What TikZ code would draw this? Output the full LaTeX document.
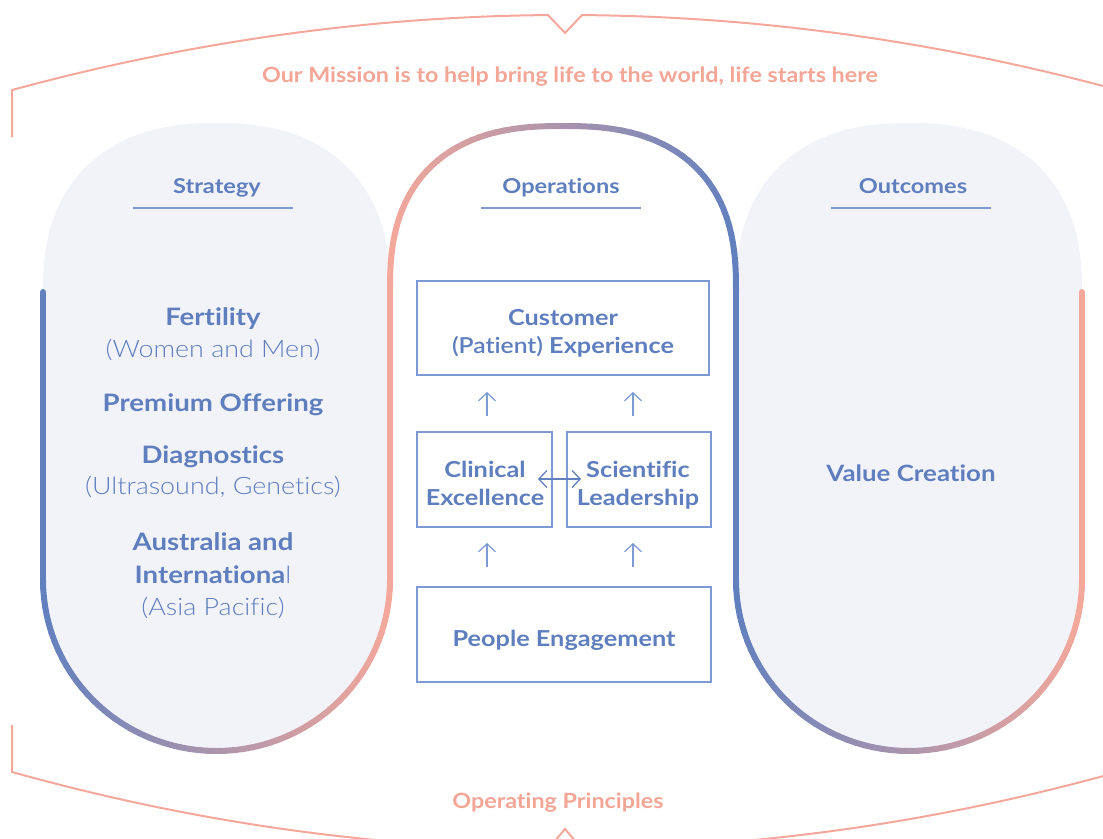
\documentclass[tikz,border=0pt]{standalone}
\usepackage{fontspec}
\setmainfont{Lato}[Ligatures=NoCommon, FakeStretch=1.15]
\newfontfamily\lightf{Lato Light}[Ligatures=NoCommon, FakeStretch=1.12]
\newfontfamily\missf{Lato}[Ligatures=NoCommon, FakeStretch=1.11]
\usetikzlibrary{arrows.meta}
\definecolor{opblue}{RGB}{98,128,190}
\definecolor{oppink}{RGB}{244,168,155}
\definecolor{optext}{RGB}{94,126,190}
\definecolor{opbox}{RGB}{125,155,210}
\definecolor{opfill}{RGB}{242,243,249}
\definecolor{opsalmon}{RGB}{243,165,150}
\tikzset{
  frameline/.style={draw=oppink, line width=2},
  pillline/.style={line width=6, line cap=round},
  bt/.style={text=optext, font=\fontsize{24}{28}\selectfont\bfseries, anchor=base, inner sep=0},
  lt/.style={text=optext, font=\fontsize{24}{28}\selectfont\lightf, anchor=base, inner sep=0},
  head/.style={text=optext, font=\fontsize{20.5}{25}\selectfont\bfseries, anchor=base, inner sep=0},
  boxt/.style={text=optext, font=\fontsize{22}{26}\selectfont\bfseries, anchor=base, inner sep=0},
  valt/.style={text=optext, font=\fontsize{22.5}{26}\selectfont\bfseries, anchor=base, inner sep=0},
  salm/.style={text=opsalmon, font=\fontsize{21}{25}\selectfont\missf\bfseries, anchor=base, inner sep=0},
  ulin/.style={draw=opbox, line width=1.1},
  opbx/.style={draw=opbox, line width=1.3, inner sep=0, minimum height=95},
  arr/.style={draw=opbox, line width=1.2, -{Straight Barb[length=8pt,width=17pt]}},
  darr/.style={draw=opblue, line width=1.3, {Straight Barb[length=8pt,width=17pt]}-{Straight Barb[length=8pt,width=17pt]}}
}
\begin{document}
\begin{tikzpicture}[x=1pt,y=-1pt]
\useasboundingbox (0,0) rectangle (1103,838);
\clip (0,0) rectangle (1103,838);
% pill fills
\foreach \cx/\a in {216.5/173.5, 909/173}{
  \fill[opfill] plot[variable=\t,domain=0:180,samples=61]
    ({\cx-\a*sign(cos(\t))*pow(max(abs(cos(\t)),0.0001),0.85)},{290-167*pow(max(sin(\t),0.0001),0.85)})
    -- plot[variable=\t,domain=0:180,samples=61] ({\cx+\a*cos(\t)},{580+171*sin(\t)}) -- cycle;
}
% straight outline parts
\draw[pillline, opblue] (43,292) -- (43,580);
\draw[pillline, oppink] (390,290) -- (390,580);
\draw[pillline, opblue] (736,290) -- (736,580);
\draw[pillline, oppink] (1082,580) -- (1082,292);
% bottom gradients
\foreach \cx/\a in {216.5/173.5, 909/173}{
  \foreach \i in {0,...,59}{
    \pgfmathsetmacro\ta{3*\i}
    \pgfmathsetmacro\tb{3*\i+3}
    \pgfmathsetmacro\pk{50*(1-cos(\ta+1.5))}
    \draw[pillline, draw=oppink!\pk!opblue] ({\cx-\a*cos(\ta)},{580+171*sin(\ta)}) -- ({\cx-\a*cos(\tb)},{580+171*sin(\tb)});
  }
}
% middle top gradient
\foreach \i in {0,...,59}{
  \pgfmathsetmacro\ta{3*\i}
  \pgfmathsetmacro\tb{3*\i+3}
  \pgfmathsetmacro\xa{563-173*sign(cos(\ta))*pow(max(abs(cos(\ta)),0.0001),0.8)}
  \pgfmathsetmacro\ya{290-164*pow(max(sin(\ta),0.0001),0.8)}
  \pgfmathsetmacro\xb{563-173*sign(cos(\tb))*pow(max(abs(cos(\tb)),0.0001),0.8)}
  \pgfmathsetmacro\yb{290-164*pow(max(sin(\tb),0.0001),0.8)}
  \pgfmathsetmacro\bl{50*(1-sign(cos(\ta+1.5))*pow(max(abs(cos(\ta+1.5)),0.0001),0.8))}
  \draw[pillline, draw=opblue!\bl!oppink] (\xa,\ya) -- (\xb,\yb);
}
% outer frame
\draw[frameline] (12,137) -- plot[variable=\t,domain=12:548,samples=40] (\t,{15+75*((\t-565)/553)^2})
  -- (565,33) -- plot[variable=\t,domain=582:1130,samples=40] (\t,{15+75*((\t-565)/553)^2});
\draw[frameline] (12,725) -- plot[variable=\t,domain=12:548,samples=40] (\t,{849-77*((\t-565)/553)^2})
  -- (565,829) -- plot[variable=\t,domain=582:1118,samples=40] (\t,{849-77*((\t-565)/553)^2}) -- (1118,725);
% texts
\node[salm] (mission) at (570,82) {Our Mission is to help bring life to the world, life starts here};
\node[salm] (oppr) at (558,808) {Operating Principles};
\node[head] (hstrat) at (217,193) {Strategy};
\node[head] (hops) at (561,193) {Operations};
\node[head] (hout) at (913,193) {Outcomes};
\draw[ulin] (133,208) -- (293,208);
\draw[ulin] (481,208) -- (641,208);
\draw[ulin] (831,208) -- (991,208);
\node[bt] (fert) at (213,325) {Fertility};
\node[lt] (wm) at (213,357) {(Women and Men)};
\node[bt] (prem) at (213,411) {Premium Offering};
\node[bt] (diag) at (213,463) {Diagnostics};
\node[lt] (ultra) at (213,494) {(Ultrasound, Genetics)};
\node[bt] (aus) at (213,550) {Australia and};
\node[lt] (intl) at (213,583) {{\rmfamily\bfseries Internationa}l};
\node[lt] (asia) at (213,615) {(Asia Pacific)};
\node[valt] (value) at (911,481) {Value Creation};
% boxes
\node[opbx, minimum width=292, minimum height=94] (cust) at (563,328) {};
\node[opbx, minimum width=135] (clin) at (484.5,479.5) {};
\node[opbx, minimum width=144] (sci) at (639,479.5) {};
\node[opbx, minimum width=294] (peop) at (564,634.5) {};
\node[boxt] (custa) at (563,325) {Customer};
\node[boxt] (custb) at (563,353) {{\lightf (Patient)} Experience};
\node[boxt] (clina) at (485,477) {Clinical};
\node[boxt] (clinb) at (485,505) {Excellence};
\node[boxt] (scia) at (638,477) {Scientific};
\node[boxt] (scib) at (638,505) {Leadership};
\node[boxt] (peopt) at (564,646) {People Engagement};
% arrows
\coordinate (a1s) at (487,416); \coordinate (a1e) at (487,392);
\coordinate (a2s) at (633,416); \coordinate (a2e) at (633,392);
\coordinate (a3s) at (487,567); \coordinate (a3e) at (487,543);
\coordinate (a4s) at (633,567); \coordinate (a4e) at (633,543);
\coordinate (dl) at (538,479); \coordinate (dr) at (581,479);
\draw[arr] (a1s) -- (a1e);
\draw[arr] (a2s) -- (a2e);
\draw[arr] (a3s) -- (a3e);
\draw[arr] (a4s) -- (a4e);
\draw[darr] (dl) -- (dr);
\end{tikzpicture}
\end{document}
